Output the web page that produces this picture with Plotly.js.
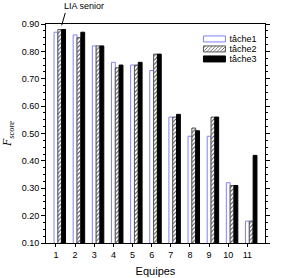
<!DOCTYPE html>
<html><head><meta charset="utf-8">
<script src="https://cdn.plot.ly/plotly-3.0.1.min.js"></script>
<style>html,body{margin:0;padding:0;background:#fff;}#chart{width:288px;height:278px;}</style>
</head><body><div id="chart"></div>
<script>
const equipes = [1,2,3,4,5,6,7,8,9,10,11];
const tache1 = [0.87,0.86,0.82,0.76,0.75,0.73,0.56,0.49,0.49,0.32,0.18];
const tache2 = [0.88,0.85,0.82,0.74,0.75,0.79,0.56,0.52,0.56,0.31,0.18];
const tache3 = [0.88,0.87,0.82,0.75,0.76,0.79,0.57,0.51,0.56,0.31,0.42];
const seriesNames = ['tâche1','tâche2','tâche3'];
const yTickVals = [0.10,0.20,0.30,0.40,0.50,0.60,0.70,0.80,0.90];

const font = {family:'Liberation Sans, Arial, sans-serif', size:9, color:'#000'};
const traces = [
  {type:'bar', name:seriesNames[0], x:equipes, y:tache1, width:0.2, offset:-0.1,
   marker:{color:'#ffffff', line:{color:'#8080ff', width:1}}},
  {type:'bar', name:seriesNames[1], x:equipes, y:tache2, width:0.2, offset:0.1,
   marker:{color:'#ffffff', pattern:{shape:'/', fgcolor:'#555', bgcolor:'#fff', size:3, solidity:0.35}, line:{color:'#555', width:1}}},
  {type:'bar', name:seriesNames[2], x:equipes, y:tache3, width:0.2, offset:0.3,
   marker:{color:'#000000', line:{color:'#000', width:1}}}
];
const layout = {
  width:288, height:278,
  margin:{l:46, r:23, t:24, b:35},
  paper_bgcolor:'#fff', plot_bgcolor:'#fff',
  font:font,
  barmode:'overlay',
  showlegend:true,
  legend:{x:0.655, y:0.95, xanchor:'left', yanchor:'top', bgcolor:'rgba(0,0,0,0)', font:{family:font.family,size:9,color:'#000'}, itemwidth:30},
  xaxis:{range:[0.48,11.92], tickvals:equipes, ticktext:equipes.map(String), ticks:'outside', ticklen:3, tickcolor:'#000',
         showline:true, linecolor:'#000', linewidth:1, mirror:true, showgrid:false, zeroline:false,
         title:{text:'Equipes', font:{family:font.family,size:11,color:'#000'}, standoff:8}, automargin:false},
  yaxis:{range:[0.10,0.90], tickvals:yTickVals, tickformat:'.2f', ticks:'outside', ticklen:4, tickcolor:'#000',
         minor:{dtick:0.025, tick0:0.1, ticks:'outside', ticklen:2, tickcolor:'#000'},
         showline:true, linecolor:'#000', linewidth:1, mirror:'ticks', showgrid:false, zeroline:false,
         title:{text:'<i>F</i><sub><i>score</i></sub>', font:{family:'Liberation Serif, Times New Roman, serif',size:12,color:'#000'}, standoff:10}, automargin:false},
  annotations:[
    {xref:'paper', yref:'paper', x:(84-46)/219, y:1+(24-6)/218, text:'LIA senior', showarrow:false,
     font:{family:font.family,size:9,color:'#000'}, xanchor:'center', yanchor:'middle'},
    {xref:'x', yref:'y', x:1.3, y:0.895, text:'', showarrow:true, arrowhead:0, arrowwidth:1, arrowcolor:'#000', ax:4, ay:-14}
  ]
};
Plotly.newPlot('chart', traces, layout, {displayModeBar:false, staticPlot:true}).then(function(){
  const items = document.querySelectorAll('.legend .traces');
  items.forEach(function(g,i){
    g.setAttribute('transform','translate(0,'+(4+i*10)+')');
    g.querySelectorAll('.legendpoints path').forEach(function(p){
      p.setAttribute('d','M-6,-3H16V3H-6Z');
    });
  });
});
</script>
</body></html>
